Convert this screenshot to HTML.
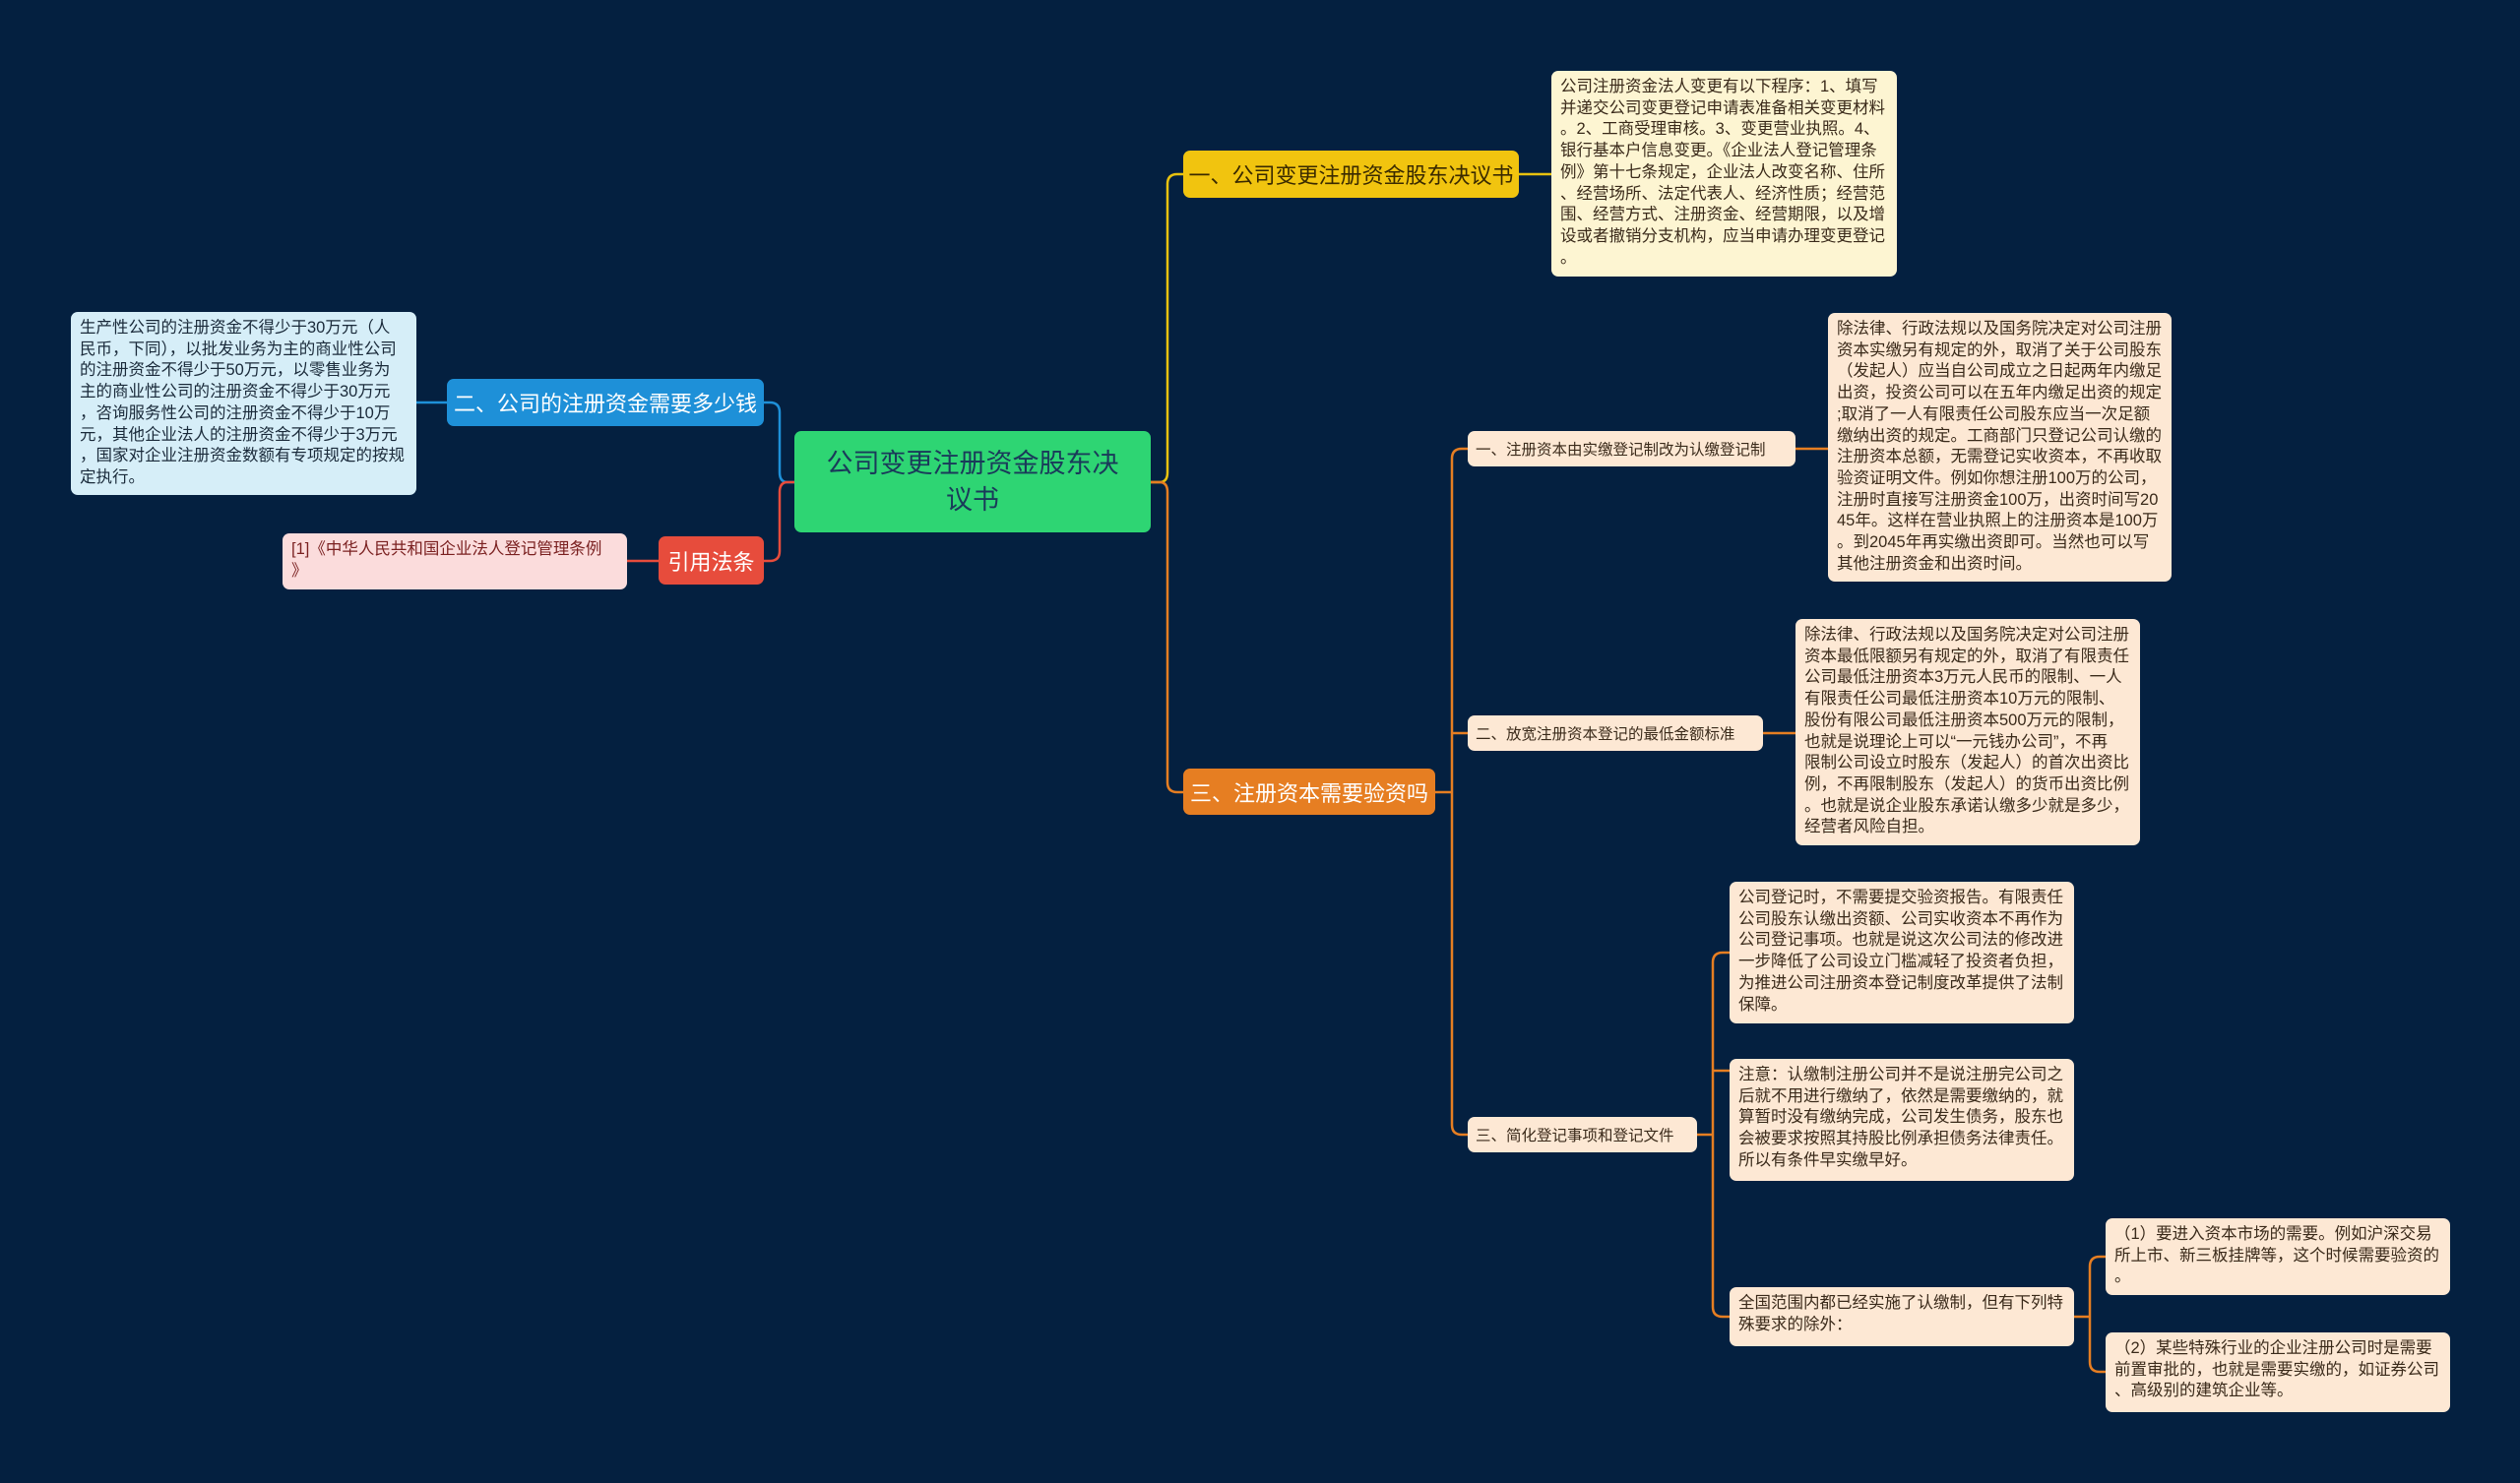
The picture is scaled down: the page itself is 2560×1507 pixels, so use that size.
<!DOCTYPE html>
<html><head><meta charset="utf-8"><style>
body{margin:0;width:2560px;height:1507px;background:#042040;overflow:hidden;position:relative;font-family:"Liberation Sans","Noto Sans CJK SC",sans-serif}
.b{position:absolute;box-sizing:border-box;border-radius:7px;white-space:nowrap}
.leaf{font-size:16.5px;line-height:21.7px;padding:6px 9px;color:#3a2a1a}
.br{display:flex;align-items:center;justify-content:center;font-size:22px;color:#fff}
.sub{display:flex;align-items:center;padding-left:8px;font-size:15.5px;color:#3a2a1a;background:#fde8d4}
</style></head><body>
<svg width="2560" height="1507" style="position:absolute;left:0;top:0" fill="none" stroke-width="2.5">
<path d="M1169 490 H1178 Q1186 490 1186 480 V187 Q1186 177 1196 177 H1202" stroke="#e8c20f"/>
<path d="M1169 490 H1178 Q1186 490 1186 500 V795 Q1186 805 1196 805 H1202" stroke="#e67e22"/>
<path d="M1543 177 H1576" stroke="#e8c20f"/>
<path d="M807 490 H800 Q792 490 792 480 V419 Q792 409 782 409 H776" stroke="#1e90d8"/>
<path d="M807 490 H800 Q792 490 792 500 V560 Q792 570 782 570 H776" stroke="#e74c3c"/>
<path d="M454 409 H423" stroke="#1e90d8"/>
<path d="M669 570 H637" stroke="#e74c3c"/>
<g stroke="#e67e22">
<path d="M1458 805 H1475"/>
<path d="M1491 456 H1485 Q1475 456 1475 466 V1143 Q1475 1153 1485 1153 H1491"/>
<path d="M1475 745 H1491"/>
<path d="M1824 456 H1857"/>
<path d="M1791 745 H1824"/>
<path d="M1724 1153 H1740"/>
<path d="M1757 968 H1750 Q1740 968 1740 978 V1328 Q1740 1338 1750 1338 H1757"/>
<path d="M1740 1088 H1757"/>
<path d="M2107 1338 H2123"/>
<path d="M2139 1277 H2133 Q2123 1277 2123 1287 V1384 Q2123 1394 2133 1394 H2139"/>
</g>
</svg>

<div class="b br" style="left:807px;top:438px;width:362px;height:103px;background:#2ed573;color:#1a3a5a;font-size:27px;line-height:37px;text-align:center;white-space:normal;padding:0 20px">公司变更注册资金股东决议书</div>

<div class="b br" style="left:1202px;top:153px;width:341px;height:48px;background:#f1c40f;color:#3a2a00">一、公司变更注册资金股东决议书</div>
<div class="b leaf" style="left:1576px;top:72px;width:351px;height:209px;background:#fdf5d2">公司注册资金法人变更有以下程序：1、填写<br>并递交公司变更登记申请表准备相关变更材料<br>。2、工商受理审核。3、变更营业执照。4、<br>银行基本户信息变更。《企业法人登记管理条<br>例》第十七条规定，企业法人改变名称、住所<br>、经营场所、法定代表人、经济性质；经营范<br>围、经营方式、注册资金、经营期限，以及增<br>设或者撤销分支机构，应当申请办理变更登记<br>。</div>

<div class="b br" style="left:1202px;top:781px;width:256px;height:47px;background:#e67e22">三、注册资本需要验资吗</div>

<div class="b sub" style="left:1491px;top:438px;width:333px;height:36px">一、注册资本由实缴登记制改为认缴登记制</div>
<div class="b leaf" style="left:1857px;top:318px;width:349px;height:273px;background:#fde8d4">除法律、行政法规以及国务院决定对公司注册<br>资本实缴另有规定的外，取消了关于公司股东<br>（发起人）应当自公司成立之日起两年内缴足<br>出资，投资公司可以在五年内缴足出资的规定<br>;取消了一人有限责任公司股东应当一次足额<br>缴纳出资的规定。工商部门只登记公司认缴的<br>注册资本总额，无需登记实收资本，不再收取<br>验资证明文件。例如你想注册100万的公司，<br>注册时直接写注册资金100万，出资时间写20<br>45年。这样在营业执照上的注册资本是100万<br>。到2045年再实缴出资即可。当然也可以写<br>其他注册资金和出资时间。</div>

<div class="b sub" style="left:1491px;top:727px;width:300px;height:36px">二、放宽注册资本登记的最低金额标准</div>
<div class="b leaf" style="left:1824px;top:629px;width:350px;height:230px;background:#fde8d4">除法律、行政法规以及国务院决定对公司注册<br>资本最低限额另有规定的外，取消了有限责任<br>公司最低注册资本3万元人民币的限制、一人<br>有限责任公司最低注册资本10万元的限制、<br>股份有限公司最低注册资本500万元的限制，<br>也就是说理论上可以“一元钱办公司”，不再<br>限制公司设立时股东（发起人）的首次出资比<br>例，不再限制股东（发起人）的货币出资比例<br>。也就是说企业股东承诺认缴多少就是多少，<br>经营者风险自担。</div>

<div class="b sub" style="left:1491px;top:1135px;width:233px;height:36px">三、简化登记事项和登记文件</div>
<div class="b leaf" style="left:1757px;top:896px;width:350px;height:144px;background:#fde8d4">公司登记时，不需要提交验资报告。有限责任<br>公司股东认缴出资额、公司实收资本不再作为<br>公司登记事项。也就是说这次公司法的修改进<br>一步降低了公司设立门槛减轻了投资者负担，<br>为推进公司注册资本登记制度改革提供了法制<br>保障。</div>
<div class="b leaf" style="left:1757px;top:1076px;width:350px;height:124px;background:#fde8d4">注意：认缴制注册公司并不是说注册完公司之<br>后就不用进行缴纳了，依然是需要缴纳的，就<br>算暂时没有缴纳完成，公司发生债务，股东也<br>会被要求按照其持股比例承担债务法律责任。<br>所以有条件早实缴早好。</div>
<div class="b leaf" style="left:1757px;top:1308px;width:350px;height:60px;background:#fde8d4">全国范围内都已经实施了认缴制，但有下列特<br>殊要求的除外：</div>
<div class="b leaf" style="left:2139px;top:1238px;width:350px;height:78px;background:#fde8d4">（1）要进入资本市场的需要。例如沪深交易<br>所上市、新三板挂牌等，这个时候需要验资的<br>。</div>
<div class="b leaf" style="left:2139px;top:1354px;width:350px;height:81px;background:#fde8d4">（2）某些特殊行业的企业注册公司时是需要<br>前置审批的，也就是需要实缴的，如证券公司<br>、高级别的建筑企业等。</div>

<div class="b br" style="left:454px;top:385px;width:322px;height:48px;background:#1e90d8">二、公司的注册资金需要多少钱</div>
<div class="b leaf" style="left:72px;top:317px;width:351px;height:186px;background:#d6eef8;color:#1a2a3a">生产性公司的注册资金不得少于30万元（人<br>民币，下同），以批发业务为主的商业性公司<br>的注册资金不得少于50万元，以零售业务为<br>主的商业性公司的注册资金不得少于30万元<br>，咨询服务性公司的注册资金不得少于10万<br>元，其他企业法人的注册资金不得少于3万元<br>，国家对企业注册资金数额有专项规定的按规<br>定执行。</div>

<div class="b br" style="left:669px;top:545px;width:107px;height:49px;background:#e74c3c">引用法条</div>
<div class="b leaf" style="left:287px;top:542px;width:350px;height:57px;background:#fbdcdc;color:#7a2020">[1]《中华人民共和国企业法人登记管理条例<br>》</div>
</body></html>
